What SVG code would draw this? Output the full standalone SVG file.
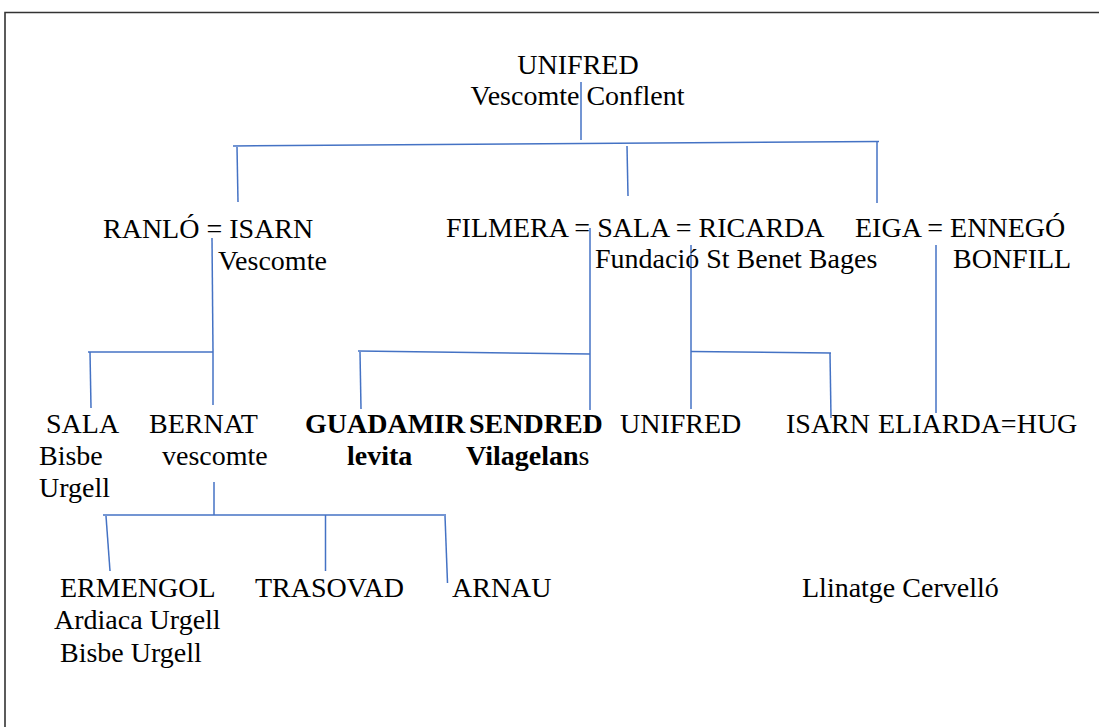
<svg xmlns="http://www.w3.org/2000/svg" width="1099" height="727" viewBox="0 0 1099 727">
<style>
text{font-family:"Liberation Serif","Times New Roman",serif;font-size:28px;fill:#000}
.b{font-weight:bold}
.n{font-weight:normal}
.c{stroke:#4472C4;stroke-width:1.5;fill:none}
.frame{stroke:#333;stroke-width:1.6;fill:none}
</style>
<rect width="1099" height="727" fill="#fff"/>
<path class="frame" d="M5 727 V12.5 H1099"/>
<g id="connectors">
<path class="c" d="M581 82 V140"/>
<path class="c" d="M233 146 L879 141.5"/>
<path class="c" d="M237 147 L238 202"/>
<path class="c" d="M627 146 L628 196"/>
<path class="c" d="M877 142 V203"/>
<path class="c" d="M212 238 L213 352"/>
<path class="c" d="M88 352 H213"/>
<path class="c" d="M90 352 L91 408"/>
<path class="c" d="M213 352 V405"/>
<path class="c" d="M590 228 V410"/>
<path class="c" d="M358 351 L590 354"/>
<path class="c" d="M360 352 L361 409"/>
<path class="c" d="M691 245 V409"/>
<path class="c" d="M691 351.5 L831 353"/>
<path class="c" d="M830 353 L831 418"/>
<path class="c" d="M936 245 V413"/>
<path class="c" d="M214 482 V515"/>
<path class="c" d="M103 515 H446"/>
<path class="c" d="M106 516 L110 571"/>
<path class="c" d="M325.5 515 V571"/>
<path class="c" d="M445 516 L447.5 583"/>
</g>
<g id="unifred-root"><text x="578" y="74" text-anchor="middle">UNIFRED</text><text x="577.5" y="105" text-anchor="middle">Vescomte Conflent</text></g>
<g id="ranlo-isarn"><text x="103" y="238">RANLÓ = ISARN</text><text x="218" y="270">Vescomte</text></g>
<g id="filmera-sala-ricarda"><text x="446" y="237">FILMERA = SALA = RICARDA</text><text x="595" y="268">Fundació St Benet Bages</text></g>
<g id="eiga-ennego"><text x="855" y="237">EIGA = ENNEGÓ</text><text x="953" y="268">BONFILL</text></g>
<g id="sala"><text x="46" y="433">SALA</text><text x="39" y="465">Bisbe</text><text x="39" y="497">Urgell</text></g>
<g id="bernat"><text x="149" y="433">BERNAT</text><text x="162" y="465">vescomte</text></g>
<g id="guadamir"><text class="b" x="305" y="433">GUADAMIR</text><text class="b" x="347" y="465">levita</text></g>
<g id="sendred"><text class="b" x="469" y="433">SENDRED</text><text class="b" x="466" y="465">Vilagelan<tspan class="n">s</tspan></text></g>
<g id="unifred"><text x="620" y="433">UNIFRED</text></g>
<g id="isarn"><text x="786" y="433">ISARN</text></g>
<g id="eliarda-hug"><text x="878" y="433">ELIARDA=HUG</text></g>
<g id="ermengol"><text x="60" y="597">ERMENGOL</text><text x="54" y="629">Ardiaca Urgell</text><text x="60" y="662">Bisbe Urgell</text></g>
<g id="trasovad"><text x="255" y="597">TRASOVAD</text></g>
<g id="arnau"><text x="452" y="597">ARNAU</text></g>
<g id="cervello"><text x="802" y="597">Llinatge Cervelló</text></g>
</svg>
